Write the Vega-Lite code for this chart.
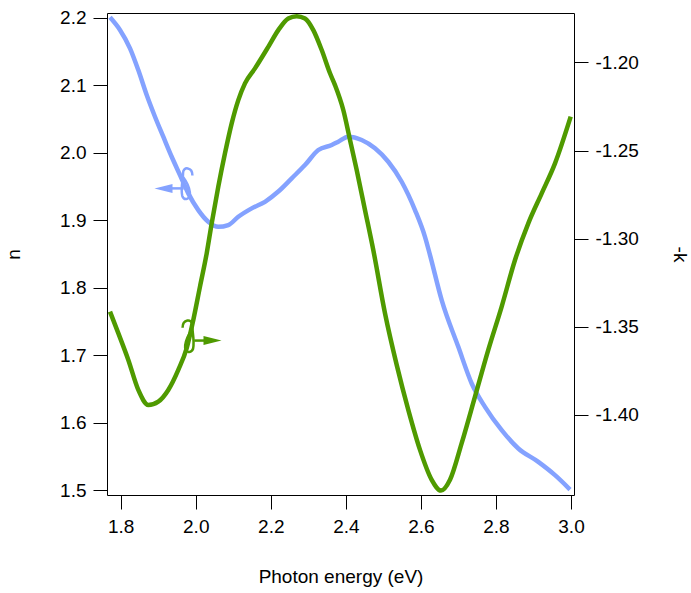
{
  "$schema": "https://vega.github.io/schema/vega-lite/v6.json",
  "width": 467,
  "height": 482,
  "autosize": {"type": "none"},
  "padding": {"left": 107, "top": 13, "right": 117, "bottom": 98},
  "background": "white",
  "datasets": {
    "n": [
      {"E": 1.7715, "n": 2.201}, {"E": 1.7981, "n": 2.1822}, {"E": 1.8248, "n": 2.155},
      {"E": 1.8469, "n": 2.1228}, {"E": 1.8693, "n": 2.0858}, {"E": 1.8914, "n": 2.0536},
      {"E": 1.9135, "n": 2.0239}, {"E": 1.9359, "n": 1.9942}, {"E": 1.958, "n": 1.9671},
      {"E": 1.9801, "n": 1.9399}, {"E": 2.0068, "n": 1.9151}, {"E": 2.0334, "n": 1.8978},
      {"E": 2.0601, "n": 1.8903}, {"E": 2.0867, "n": 1.8929}, {"E": 2.1134, "n": 1.9052},
      {"E": 2.1491, "n": 1.9177}, {"E": 2.1845, "n": 1.9274}, {"E": 2.22, "n": 1.9426},
      {"E": 2.2557, "n": 1.9622}, {"E": 2.2911, "n": 1.9819}, {"E": 2.3266, "n": 2.0042},
      {"E": 2.3623, "n": 2.0116}, {"E": 2.3799, "n": 2.0165}, {"E": 2.4065, "n": 2.0239},
      {"E": 2.4422, "n": 2.019}, {"E": 2.4777, "n": 2.0067}, {"E": 2.5131, "n": 1.9868},
      {"E": 2.5488, "n": 1.9571}, {"E": 2.5843, "n": 1.9151}, {"E": 2.6109, "n": 1.8755},
      {"E": 2.6243, "n": 1.8484}, {"E": 2.6554, "n": 1.7816}, {"E": 2.6997, "n": 1.7123},
      {"E": 2.7354, "n": 1.658}, {"E": 2.7708, "n": 1.6233}, {"E": 2.8153, "n": 1.5887},
      {"E": 2.8596, "n": 1.5616}, {"E": 2.9129, "n": 1.5417}, {"E": 2.9574, "n": 1.522},
      {"E": 2.9974, "n": 1.5007}
    ],
    "k": [
      {"E": 1.7715, "negk": -1.3414}, {"E": 1.7936, "negk": -1.3536}, {"E": 1.8203, "negk": -1.3688},
      {"E": 1.8469, "negk": -1.3858}, {"E": 1.8736, "negk": -1.3943}, {"E": 1.9002, "negk": -1.3924},
      {"E": 1.9268, "negk": -1.3858}, {"E": 1.9535, "negk": -1.3744}, {"E": 1.9759, "negk": -1.3621},
      {"E": 1.9935, "negk": -1.3461}, {"E": 2.0113, "negk": -1.3272}, {"E": 2.0292, "negk": -1.3083},
      {"E": 2.0425, "negk": -1.2913}, {"E": 2.0601, "negk": -1.2705}, {"E": 2.0779, "negk": -1.2516},
      {"E": 2.0958, "negk": -1.2346}, {"E": 2.1134, "negk": -1.2214}, {"E": 2.1312, "negk": -1.2119},
      {"E": 2.1579, "negk": -1.2034}, {"E": 2.1933, "negk": -1.1912}, {"E": 2.22, "negk": -1.1817},
      {"E": 2.2466, "negk": -1.1751}, {"E": 2.269, "negk": -1.1738}, {"E": 2.2911, "negk": -1.1751},
      {"E": 2.3133, "negk": -1.1817}, {"E": 2.3357, "negk": -1.193}, {"E": 2.3578, "negk": -1.2062},
      {"E": 2.3711, "negk": -1.2129}, {"E": 2.3932, "negk": -1.227}, {"E": 2.4111, "negk": -1.244},
      {"E": 2.4289, "negk": -1.2611}, {"E": 2.451, "negk": -1.2837}, {"E": 2.4731, "negk": -1.3064},
      {"E": 2.5043, "negk": -1.3423}, {"E": 2.5355, "negk": -1.3716}, {"E": 2.5664, "negk": -1.3971},
      {"E": 2.5976, "negk": -1.4198}, {"E": 2.6288, "negk": -1.4368}, {"E": 2.6536, "negk": -1.4429},
      {"E": 2.6776, "negk": -1.4368}, {"E": 2.7087, "negk": -1.416}, {"E": 2.7442, "negk": -1.3896},
      {"E": 2.7796, "negk": -1.3631}, {"E": 2.8153, "negk": -1.3385}, {"E": 2.8508, "negk": -1.3121},
      {"E": 2.8862, "negk": -1.2913}, {"E": 2.9219, "negk": -1.2743}, {"E": 2.9574, "negk": -1.2573},
      {"E": 2.9992, "negk": -1.2308}
    ],
    "nArrow": [{"E": 1.935, "E2": 1.968, "n": 1.9473}],
    "nHead": [{"E": 1.914, "n": 1.9473}],
    "nLoop": [{"E": 1.9753, "n": 1.9552}],
    "kArrow": [{"E": 1.996, "E2": 2.03, "negk": -1.3578}],
    "kHead": [{"E": 2.0446, "negk": -1.3578}],
    "kLoop": [{"E": 1.9812, "negk": -1.355}]
  },
  "config": {
    "font": "Liberation Sans",
    "view": {"stroke": "black", "strokeWidth": 1},
    "axis": {
      "labelFont": "Liberation Sans",
      "titleFont": "Liberation Sans",
      "labelFontSize": 19,
      "titleFontSize": 19,
      "titleFontWeight": "normal",
      "labelColor": "black",
      "titleColor": "black",
      "tickColor": "black",
      "domainColor": "black",
      "tickSize": 14,
      "tickWidth": 1,
      "domain": false,
      "grid": false,
      "labelPadding": 7
    }
  },
  "resolve": {"scale": {"y": "independent"}},
  "layer": [
    {
      "layer": [
        {
          "data": {"name": "n"},
          "mark": {"type": "line", "color": "#84a2ff", "strokeWidth": 4.5, "interpolate": "monotone", "clip": true},
          "encoding": {
            "x": {"field": "E", "type": "quantitative",
                  "scale": {"domain": [1.7635, 3.008], "nice": false, "zero": false},
                  "axis": {"title": "Photon energy (eV)", "values": [1.8, 2.0, 2.2, 2.4, 2.6, 2.8, 3.0], "format": ".1f", "titlePadding": 31, "labelPadding": 8}},
            "y": {"field": "n", "type": "quantitative",
                  "scale": {"domain": [1.4926, 2.2074], "nice": false, "zero": false},
                  "axis": {"title": "n", "orient": "left", "values": [1.5, 1.6, 1.7, 1.8, 1.9, 2.0, 2.1, 2.2], "format": ".1f", "titlePadding": 36}}
          }
        },
        {
          "data": {"name": "nArrow"},
          "mark": {"type": "rule", "color": "#84a2ff", "strokeWidth": 2.5},
          "encoding": {
            "x": {"field": "E", "type": "quantitative", "scale": {"domain": [1.7635, 3.008], "nice": false, "zero": false}},
            "x2": {"field": "E2"},
            "y": {"field": "n", "type": "quantitative"}
          }
        },
        {
          "data": {"name": "nHead"},
          "mark": {"type": "point", "filled": true, "color": "#84a2ff", "opacity": 1, "size": 324, "shape": "M-1,0 L1,-0.5 L1,0.5 Z"},
          "encoding": {
            "x": {"field": "E", "type": "quantitative", "scale": {"domain": [1.7635, 3.008], "nice": false, "zero": false}},
            "y": {"field": "n", "type": "quantitative"}
          }
        },
        {
          "data": {"name": "nLoop"},
          "mark": {"type": "point", "filled": false, "color": "#84a2ff", "opacity": 1, "strokeWidth": 2.5, "size": 1156,
                   "shape": "M0.35,-0.45 C0.35,-0.95 -0.2,-1 -0.2,-0.6 C-0.2,-0.2 -0.35,0.3 -0.25,0.75 C-0.15,1.05 0.25,1 0.2,0.55 C0.15,0.15 -0.05,-0.15 -0.2,-0.35"},
          "encoding": {
            "x": {"field": "E", "type": "quantitative", "scale": {"domain": [1.7635, 3.008], "nice": false, "zero": false}},
            "y": {"field": "n", "type": "quantitative"}
          }
        }
      ]
    },
    {
      "layer": [
        {
          "data": {"name": "k"},
          "mark": {"type": "line", "color": "#4f9a00", "strokeWidth": 4.5, "interpolate": "monotone", "clip": true},
          "encoding": {
            "x": {"field": "E", "type": "quantitative", "scale": {"domain": [1.7635, 3.008], "nice": false, "zero": false}},
            "y": {"field": "negk", "type": "quantitative",
                  "scale": {"domain": [-1.4454, -1.172], "nice": false, "zero": false},
                  "axis": {"title": "-k", "orient": "right", "values": [-1.4, -1.35, -1.3, -1.25, -1.2], "format": ".2f",
                           "labelExpr": "replace(datum.label, '−', '-')", "titlePadding": 31}}
          }
        },
        {
          "data": {"name": "kArrow"},
          "mark": {"type": "rule", "color": "#4f9a00", "strokeWidth": 2.5},
          "encoding": {
            "x": {"field": "E", "type": "quantitative", "scale": {"domain": [1.7635, 3.008], "nice": false, "zero": false}},
            "x2": {"field": "E2"},
            "y": {"field": "negk", "type": "quantitative"}
          }
        },
        {
          "data": {"name": "kHead"},
          "mark": {"type": "point", "filled": true, "color": "#4f9a00", "opacity": 1, "size": 324, "shape": "M1,0 L-1,-0.5 L-1,0.5 Z"},
          "encoding": {
            "x": {"field": "E", "type": "quantitative", "scale": {"domain": [1.7635, 3.008], "nice": false, "zero": false}},
            "y": {"field": "negk", "type": "quantitative"}
          }
        },
        {
          "data": {"name": "kLoop"},
          "mark": {"type": "point", "filled": false, "color": "#4f9a00", "opacity": 1, "strokeWidth": 2.5, "size": 1225,
                   "shape": "M-0.35,-0.45 C-0.35,-0.95 0.2,-1 0.2,-0.6 C0.2,-0.2 0.35,0.3 0.25,0.75 C0.15,1.05 -0.25,1 -0.2,0.55 C-0.15,0.15 0.05,-0.15 0.2,-0.35"},
          "encoding": {
            "x": {"field": "E", "type": "quantitative", "scale": {"domain": [1.7635, 3.008], "nice": false, "zero": false}},
            "y": {"field": "negk", "type": "quantitative"}
          }
        }
      ]
    }
  ]
}
